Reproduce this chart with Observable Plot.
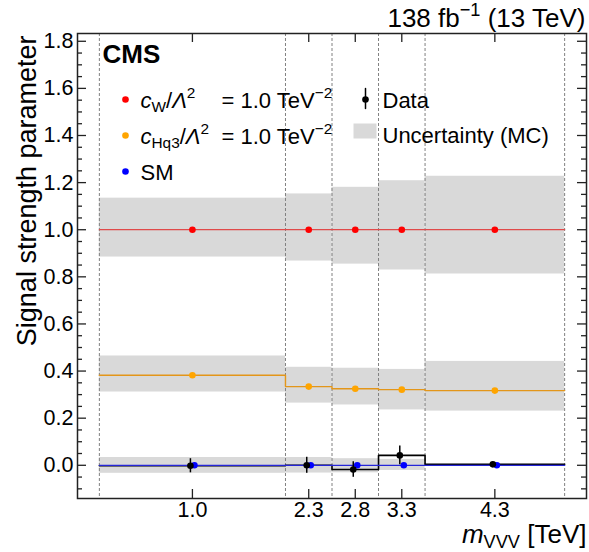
<!DOCTYPE html>
<html><head><meta charset="utf-8">
<script src="https://cdn.jsdelivr.net/npm/d3@7"></script>
<script src="https://cdn.jsdelivr.net/npm/@observablehq/plot@0.6"></script>
<style>html,body{margin:0;padding:0;background:#fff}</style>
</head><body><div id="chart"></div>
<script>
// ---- data ----
const binEdges = [0, 4, 5, 6, 7, 10];
const binLabels = ["1.0", "2.3", "2.8", "3.3", "4.3"];

const cwValue = [1.0, 1.0, 1.0, 1.0, 1.0];
const cwLow   = [0.884, 0.867, 0.854, 0.829, 0.812];
const cwHigh  = [1.134, 1.152, 1.180, 1.208, 1.227];

const hq3Value = [0.382, 0.334, 0.325, 0.321, 0.317];
const hq3Low   = [0.311, 0.264, 0.256, 0.235, 0.230];
const hq3High  = [0.464, 0.416, 0.412, 0.407, 0.441];

const smValue = [0, 0, 0, 0, 0];
const smLow   = [-0.034, -0.033, -0.032, -0.022, -0.004];
const smHigh  = [0.033, 0.033, 0.028, 0.025, 0.004];

const dataValue = [-0.002, 0.0, -0.018, 0.042, 0.004];
const dataErr   = [0.030, 0.034, 0.033, 0.040, 0.004];

const yMajorTicks = [0.0, 0.2, 0.4, 0.6, 0.8, 1.0, 1.2, 1.4, 1.6, 1.8];
const yMinorTicks = d3.range(-0.1, 1.83, 0.05).filter(v => yMajorTicks.every(m => Math.abs(m - v) > 1e-6));

// ---- derived tables ----
const bins = binLabels.map((label, i) => ({
  i, label, x1: binEdges[i], x2: binEdges[i + 1], xc: (binEdges[i] + binEdges[i + 1]) / 2
}));
const bandRows = (lo, hi) => bins.map(b => ({...b, y1: lo[b.i], y2: hi[b.i]}));
const pointRows = (v) => bins.map(b => ({...b, y: v[b.i]}));
const stepRows = (v) => bins.flatMap(b => [{x: b.x1, y: v[b.i]}, {x: b.x2, y: v[b.i]}]);
const dataRows = bins.map(b => ({...b, y: dataValue[b.i], y1: dataValue[b.i] - dataErr[b.i], y2: dataValue[b.i] + dataErr[b.i]}));

// ---- layout ----
const W = 589, H = 552, mT = 33, mB = 54, mL = 77, mR = 3;
const fw = W - mL - mR, fh = H - mT - mB;
const FONT = "'Liberation Sans', Arial, Helvetica, sans-serif";
const BAND = "#d9d9d9", AX = "#222";
const MID = {lineAnchor: "middle"};
const LEG = 22;

const RICH = {
  "§cw":  {size: LEG, parts: [["c", "i"], ["W", "sub"], ["/", ""], ["Λ", "i"], ["2", "sup"]]},
  "§hq3": {size: LEG, parts: [["c", "i"], ["Hq3", "sub"], ["/", ""], ["Λ", "i"], ["2", "sup"]]},
  "§eq":  {size: LEG, parts: [["= 1.0 TeV", ""], ["−2", "sup"]]},
  "§lumi": {size: 26, parts: [["138 fb", ""], ["−1", "sup"], [" (13 TeV)", ""]]},
  "§xlab": {size: 26, parts: [["m", "i"], ["VVV", "sub"], [" [TeV]", ""]]}
};

const legendMarks = [];
const leftLegend = [
  {key: "§cw", color: "#ff0000", dy: 66},
  {key: "§hq3", color: "#ffa500", dy: 102},
  {key: "SM", color: "#0000ff", dy: 138}
];
for (const item of leftLegend) {
  legendMarks.push(Plot.dot([item.key], {frameAnchor: "top-left", dx: 48, dy: item.dy, r: 3.3, fill: item.color}));
  legendMarks.push(Plot.text([item.key], {...MID, frameAnchor: "top-left", textAnchor: "start", dx: 63, dy: item.dy + 1, fontSize: LEG}));
  if (item.key !== "SM") legendMarks.push(Plot.text(["§eq"], {...MID, frameAnchor: "top-left", textAnchor: "start", dx: 144, dy: item.dy + 1, fontSize: LEG}));
}
// Data legend
legendMarks.push(Plot.vector(["Data"], {frameAnchor: "top-left", dx: 288, dy: 65, length: 20, rotate: 0, anchor: "middle", r: 0, stroke: "black", strokeWidth: 1.5}));
legendMarks.push(Plot.dot(["Data"], {frameAnchor: "top-left", dx: 288, dy: 66, r: 3.3, fill: "black"}));
legendMarks.push(Plot.text(["Data"], {...MID, frameAnchor: "top-left", textAnchor: "start", dx: 305, dy: 67, fontSize: LEG}));
// Uncertainty legend
legendMarks.push(Plot.vector(["Unc"], {frameAnchor: "top-left", dx: 287.5, dy: 97.5, length: 23, rotate: 90, anchor: "middle", r: 0, stroke: BAND, strokeWidth: 15, strokeLinecap: "butt"}));
legendMarks.push(Plot.text(["Uncertainty (MC)"], {...MID, frameAnchor: "top-left", textAnchor: "start", dx: 305, dy: 102, fontSize: LEG}));

const plot = Plot.plot({
  width: W, height: H,
  marginTop: mT, marginBottom: mB, marginLeft: mL, marginRight: mR,
  style: {fontFamily: FONT, fontSize: "20px", background: "white", color: "black", overflow: "visible"},
  x: {domain: [-0.47, 10.47], axis: null},
  y: {domain: [-0.141, 1.833], axis: null},
  marks: [
    // uncertainty bands
    Plot.rect(bandRows(cwLow, cwHigh), {x1: "x1", x2: "x2", y1: "y1", y2: "y2", fill: BAND}),
    Plot.rect(bandRows(hq3Low, hq3High), {x1: "x1", x2: "x2", y1: "y1", y2: "y2", fill: BAND}),
    Plot.rect(bandRows(smLow, smHigh), {x1: "x1", x2: "x2", y1: "y1", y2: "y2", fill: BAND}),
    // bin edges
    Plot.ruleX(binEdges, {stroke: "#808080", strokeWidth: 1, strokeDasharray: "3,2"}),
    // step lines
    Plot.line(stepRows(cwValue), {x: "x", y: "y", stroke: "#e04a4a", strokeWidth: 1.2}),
    Plot.line(stepRows(hq3Value), {x: "x", y: "y", stroke: "#e3961a", strokeWidth: 1.4}),
    Plot.line(stepRows(dataValue), {x: "x", y: "y", stroke: "#000", strokeWidth: 1.6}),
    Plot.line(stepRows(smValue), {x: "x", y: "y", stroke: "#2525d8", strokeWidth: 1.3}),
    // points
    Plot.dot(pointRows(cwValue), {x: "xc", y: "y", r: 3.3, fill: "#ff0000"}),
    Plot.dot(pointRows(hq3Value), {x: "xc", y: "y", r: 3.3, fill: "#ffa500"}),
    Plot.dot(pointRows(smValue), {x: "xc", y: "y", r: 3.3, fill: "#0000ff", dx: 2}),
    Plot.ruleX(dataRows, {x: "xc", y1: "y1", y2: "y2", stroke: "#000", strokeWidth: 1.5, dx: -2}),
    Plot.dot(dataRows, {x: "xc", y: "y", r: 3.3, fill: "#000", dx: -2}),
    // ticks (inward, all four sides)
    Plot.tickY(yMajorTicks, {y: d => d, insetRight: fw - 9, stroke: AX, strokeWidth: 1.3}),
    Plot.tickY(yMinorTicks, {y: d => d, insetRight: fw - 5, stroke: AX, strokeWidth: 1.3}),
    Plot.tickY(yMajorTicks, {y: d => d, insetLeft: fw - 9, stroke: AX, strokeWidth: 1.3}),
    Plot.tickY(yMinorTicks, {y: d => d, insetLeft: fw - 5, stroke: AX, strokeWidth: 1.3}),
    Plot.tickX(bins, {x: "xc", insetTop: fh - 9, stroke: AX, strokeWidth: 1.3}),
    Plot.tickX(bins, {x: "xc", insetBottom: fh - 9, stroke: AX, strokeWidth: 1.3}),
    Plot.frame({stroke: AX, strokeWidth: 1.5}),
    // tick labels
    Plot.text(yMajorTicks, {...MID, y: d => d, text: d => d.toFixed(1), frameAnchor: "left", textAnchor: "end", dx: -4, fontSize: 21.5}),
    Plot.text(bins, {...MID, x: "xc", text: "label", frameAnchor: "bottom", dy: 12, fontSize: 21.5}),
    // axis labels
    Plot.text(["Signal strength parameter"], {...MID, frameAnchor: "top-left", rotate: -90, textAnchor: "end", dx: -50, dy: 2, fontSize: 27}),
    Plot.text(["§xlab"], {...MID, frameAnchor: "bottom-right", textAnchor: "end", dx: 0, dy: 36, fontSize: 26}),
    // header
    Plot.text(["§lumi"], {...MID, frameAnchor: "top-right", textAnchor: "end", dx: -1, dy: -15, fontSize: 26}),
    Plot.text(["CMS"], {...MID, frameAnchor: "top-left", textAnchor: "start", dx: 25, dy: 21, fontSize: 26, fontWeight: "bold"}),
    ...legendMarks
  ]
});

function applyRich(svg) {
  d3.select(svg).selectAll("text").each(function () {
    const spec = RICH[this.textContent];
    if (!spec) return;
    const el = d3.select(this).text(null);
    let shift = 0;
    for (const [str, kind] of spec.parts) {
      const ts = el.append("tspan").text(str);
      let target = 0;
      if (kind === "sub") target = spec.size * 0.2;
      else if (kind === "sup") target = -spec.size * 0.42;
      const d = target - shift;
      if (d) ts.attr("dy", d);
      shift = target;
      if (kind === "sub" || kind === "sup") ts.attr("font-size", spec.size * 0.7);
      if (kind === "i") ts.attr("font-style", "italic");
    }
  });
}
applyRich(plot);
document.getElementById("chart").appendChild(plot);
</script>
</body></html>
